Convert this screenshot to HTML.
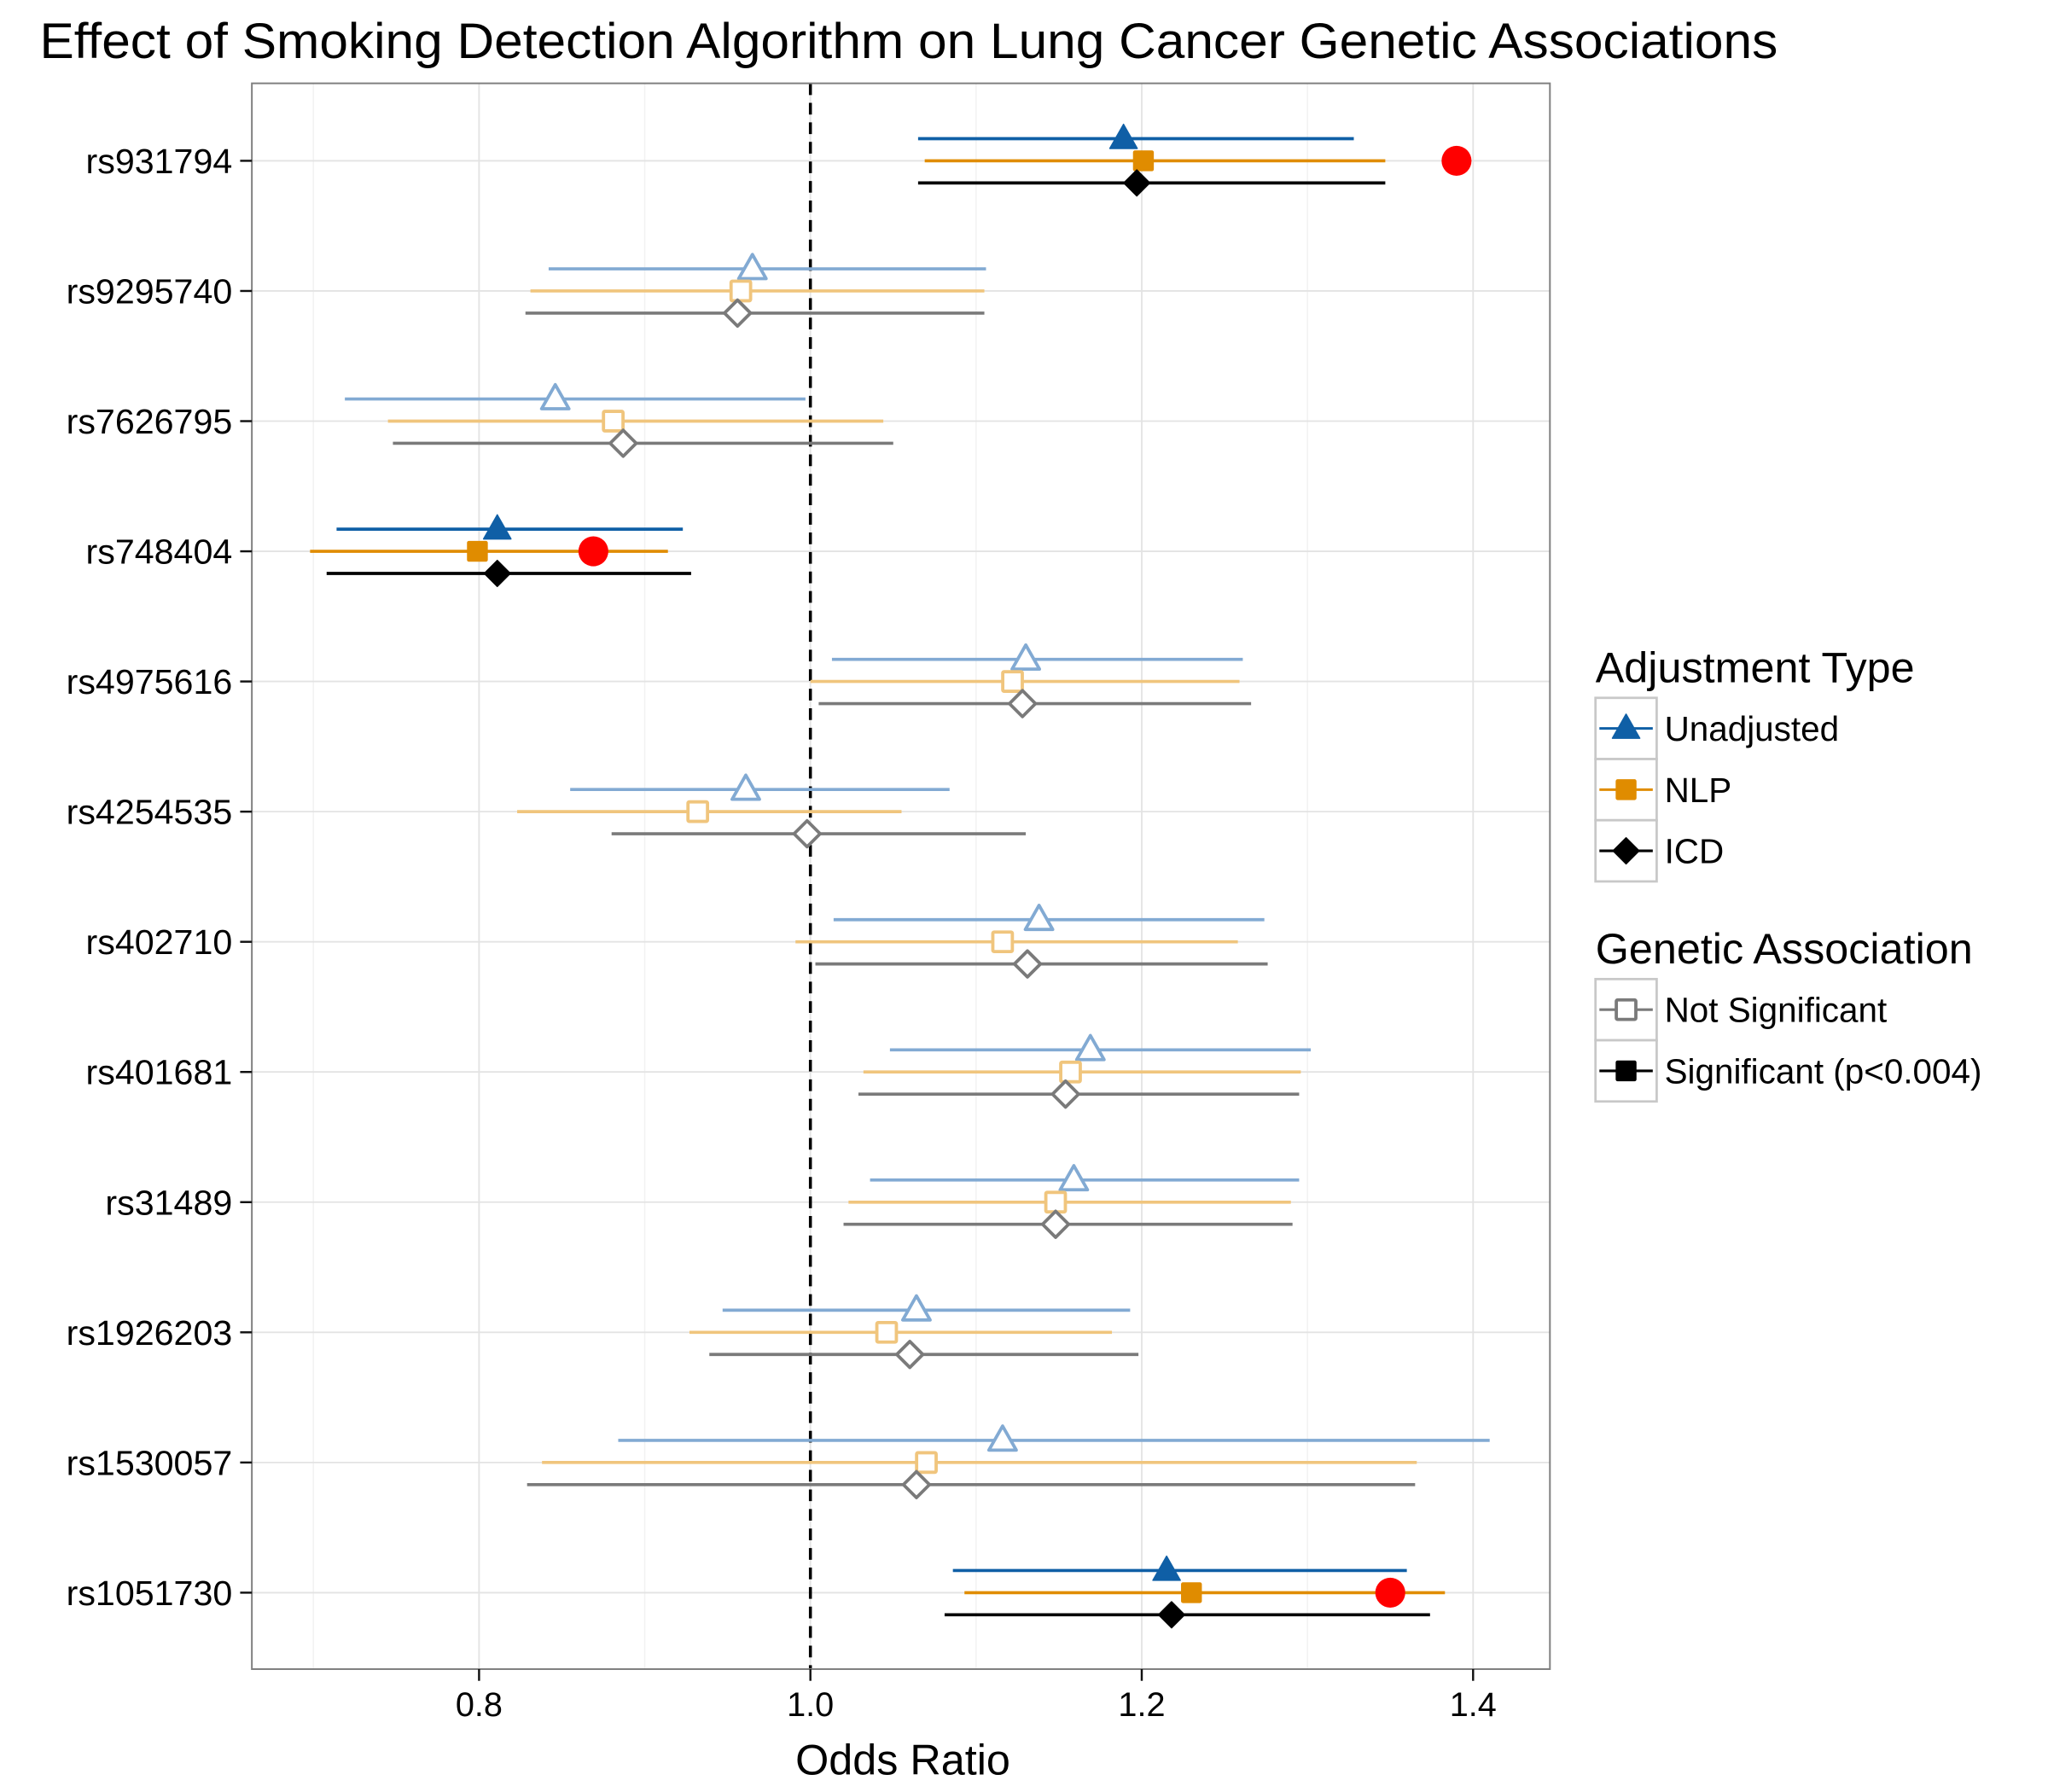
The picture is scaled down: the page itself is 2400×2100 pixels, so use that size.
<!DOCTYPE html>
<html><head><meta charset="utf-8"><style>
html,body{margin:0;padding:0;background:#fff;}
svg{display:block;font-family:"Liberation Sans",Arial,sans-serif;}
</style></head><body>
<svg id="chart" width="2400" height="2100" viewBox="0 0 1554 1364" xmlns="http://www.w3.org/2000/svg">
<rect x="0" y="0" width="1554" height="1364" fill="#fff"/>
<g transform="scale(0.991)">
<text x="28" y="44.5" font-size="38" textLength="1335" lengthAdjust="spacingAndGlyphs" fill="#000">Effect of Smoking Detection Algorithm on Lung Cancer Genetic Associations</text>
<g id="grid"></g>
<g id="marks"></g>
<rect x="191" y="64" width="997" height="1218" fill="none" stroke="#7f7f7f" stroke-width="1.3"/>
<g id="axes"></g>
<text x="691" y="1363" font-size="33" text-anchor="middle">Odds Ratio</text>
<g id="legend"></g>
</g>
</svg>
<script>
const snps = ["rs931794","rs9295740","rs7626795","rs748404","rs4975616","rs4254535","rs402710","rs401681","rs31489","rs1926203","rs1530057","rs1051730"];
const significant = [true,false,false,true,false,false,false,false,false,false,false,true];
const unadjOR = [1.189,0.965,0.846,0.811,1.130,0.961,1.138,1.169,1.159,1.064,1.116,1.215];
const unadjLo = [1.065,0.842,0.719,0.714,1.013,0.855,1.014,1.048,1.036,0.947,0.884,1.086];
const unadjHi = [1.328,1.106,0.997,0.923,1.261,1.084,1.274,1.302,1.295,1.193,1.410,1.360];
const nlpOR = [1.201,0.958,0.881,0.799,1.122,0.932,1.116,1.157,1.148,1.046,1.070,1.230];
const nlpLo = [1.069,0.831,0.745,0.698,1.000,0.823,0.991,1.032,1.023,0.927,0.838,1.093];
const nlpHi = [1.347,1.105,1.044,0.914,1.259,1.055,1.258,1.296,1.290,1.182,1.366,1.383];
const icdOR = [1.197,0.956,0.887,0.811,1.128,0.998,1.131,1.154,1.148,1.060,1.064,1.218];
const icdLo = [1.065,0.828,0.748,0.708,1.005,0.880,1.003,1.029,1.020,0.939,0.829,1.081];
const icdHi = [1.347,1.105,1.050,0.928,1.266,1.130,1.276,1.295,1.291,1.198,1.365,1.374];
const redDotOR = [1.390,null,null,0.869,null,null,null,null,null,null,null,1.350];
const xTicks = [0.8,1.0,1.2,1.4];
const xTickLabels = ["0.8","1.0","1.2","1.4"];
const xMinor = [0.7,0.9,1.1,1.3];

const NS="http://www.w3.org/2000/svg";
const TOP=64,BOT=1282,LEFT=191,RIGHT=1188;
function x(v){return 620+(v-1)*1272.5;}
function y(i){return 123.5+i*99.98;}
function mk(tag,attrs,parent){const e=document.createElementNS(NS,tag);for(const k in attrs)e.setAttribute(k,attrs[k]);parent.appendChild(e);return e;}
const grid=document.getElementById('grid'),marks=document.getElementById('marks'),axes=document.getElementById('axes'),legend=document.getElementById('legend');
xMinor.forEach(v=>{const l=mk('line',{x1:x(v),x2:x(v),y1:TOP,y2:BOT,stroke:'#f2f2f2','stroke-width':1},grid);

});
xTicks.forEach((v,k)=>{const l=mk('line',{x1:x(v),x2:x(v),y1:TOP,y2:BOT,stroke:'#e3e3e3','stroke-width':1.2},grid);


const t=mk('line',{x1:x(v),x2:x(v),y1:BOT,y2:BOT+9,stroke:'#111','stroke-width':1.6},axes);


const tx=mk('text',{x:x(v),y:BOT+36,'font-size':26,'text-anchor':'middle',fill:'#000'},axes);tx.textContent=xTickLabels[k];

});
snps.forEach((s,i)=>{const l=mk('line',{x1:LEFT,x2:RIGHT,y1:y(i),y2:y(i),stroke:'#e3e3e3','stroke-width':1.2},grid);


const t=mk('line',{x1:182,x2:LEFT,y1:y(i),y2:y(i),stroke:'#111','stroke-width':1.6},axes);


const tx=mk('text',{x:176,y:y(i)+9.5,'font-size':27,'text-anchor':'end',fill:'#000'},axes);tx.textContent=s;

});
const ref=mk('line',{x1:x(1),x2:x(1),y1:TOP,y2:BOT,stroke:'#000','stroke-width':2.3,'stroke-dasharray':'9,6'},marks);



function marker(shape,cx,cy,color,filled,parent){
  let e;
  const fill=filled?color:'#fff',sw=filled?1:2.5;
  if(shape==='tri'){e=mk('polygon',{points:`${cx},${cy-11} ${cx-10.5},${cy+7.5} ${cx+10.5},${cy+7.5}`,fill:fill,stroke:color,'stroke-width':sw,'stroke-linejoin':'round'},parent);}
  else if(shape==='sq'){e=mk('rect',{x:cx-7.5,y:cy-7.5,width:15,height:15,fill:fill,stroke:color,'stroke-width':sw,rx:1},parent);}
  else {e=mk('polygon',{points:`${cx},${cy-10} ${cx+10},${cy} ${cx},${cy+10} ${cx-10},${cy}`,fill:fill,stroke:color,'stroke-width':sw,'stroke-linejoin':'round'},parent);}
  return e;
}
const series=[
 {name:'unadjusted',or:unadjOR,lo:unadjLo,hi:unadjHi,off:-17,col:'#0F5FA6',ns:'#82AAD3',shape:'tri'},
 {name:'nlp',or:nlpOR,lo:nlpLo,hi:nlpHi,off:0,col:'#E08C00',ns:'#F0C57D',shape:'sq'},
 {name:'icd',or:icdOR,lo:icdLo,hi:icdHi,off:17,col:'#000000',ns:'#7A7A7A',shape:'dia'}];
series.forEach(s=>{snps.forEach((snp,i)=>{
  const c=significant[i]?s.col:s.ns,yy=y(i)+s.off;
  const l=mk('line',{x1:x(s.lo[i]),x2:x(s.hi[i]),y1:yy,y2:yy,stroke:c,'stroke-width':2.4},marks);
  
  
  const m=marker(s.shape,x(s.or[i]),yy,c,significant[i],marks);
  
  
});});
redDotOR.forEach((v,i)=>{if(v===null)return;
  const c=mk('circle',{cx:x(v),cy:y(i),r:11.5,fill:'#FF0000'},marks);
  
  });

function legTitle(t,yy){const e=mk('text',{x:1223,y:yy,'font-size':33,fill:'#000'},legend);e.textContent=t;

}
function legEntry(label,yTop,shape,color,filled){
  const g=mk('g',{},legend);
  
  
  mk('rect',{x:1223,y:yTop,width:47,height:47,fill:'#fff',stroke:'#c8c8c8','stroke-width':1.8},g);
  mk('line',{x1:1226,x2:1267,y1:yTop+23.5,y2:yTop+23.5,stroke:color,'stroke-width':2},g);
  marker(shape,1246.5,yTop+23.5,color,filled,g);
  const t=mk('text',{x:1276,y:yTop+33,'font-size':26.5,fill:'#000'},g);t.textContent=label;
}
legTitle('Adjustment Type',524);
legEntry('Unadjusted',536,'tri','#0F5FA6',true);
legEntry('NLP',583,'sq','#E08C00',true);
legEntry('ICD',630,'dia','#000',true);
legTitle('Genetic Association',740);
legEntry('Not Significant',752,'sq','#7A7A7A',false);
legEntry('Significant (p<0.004)',799,'sq','#000',true);
</script>
</body></html>
